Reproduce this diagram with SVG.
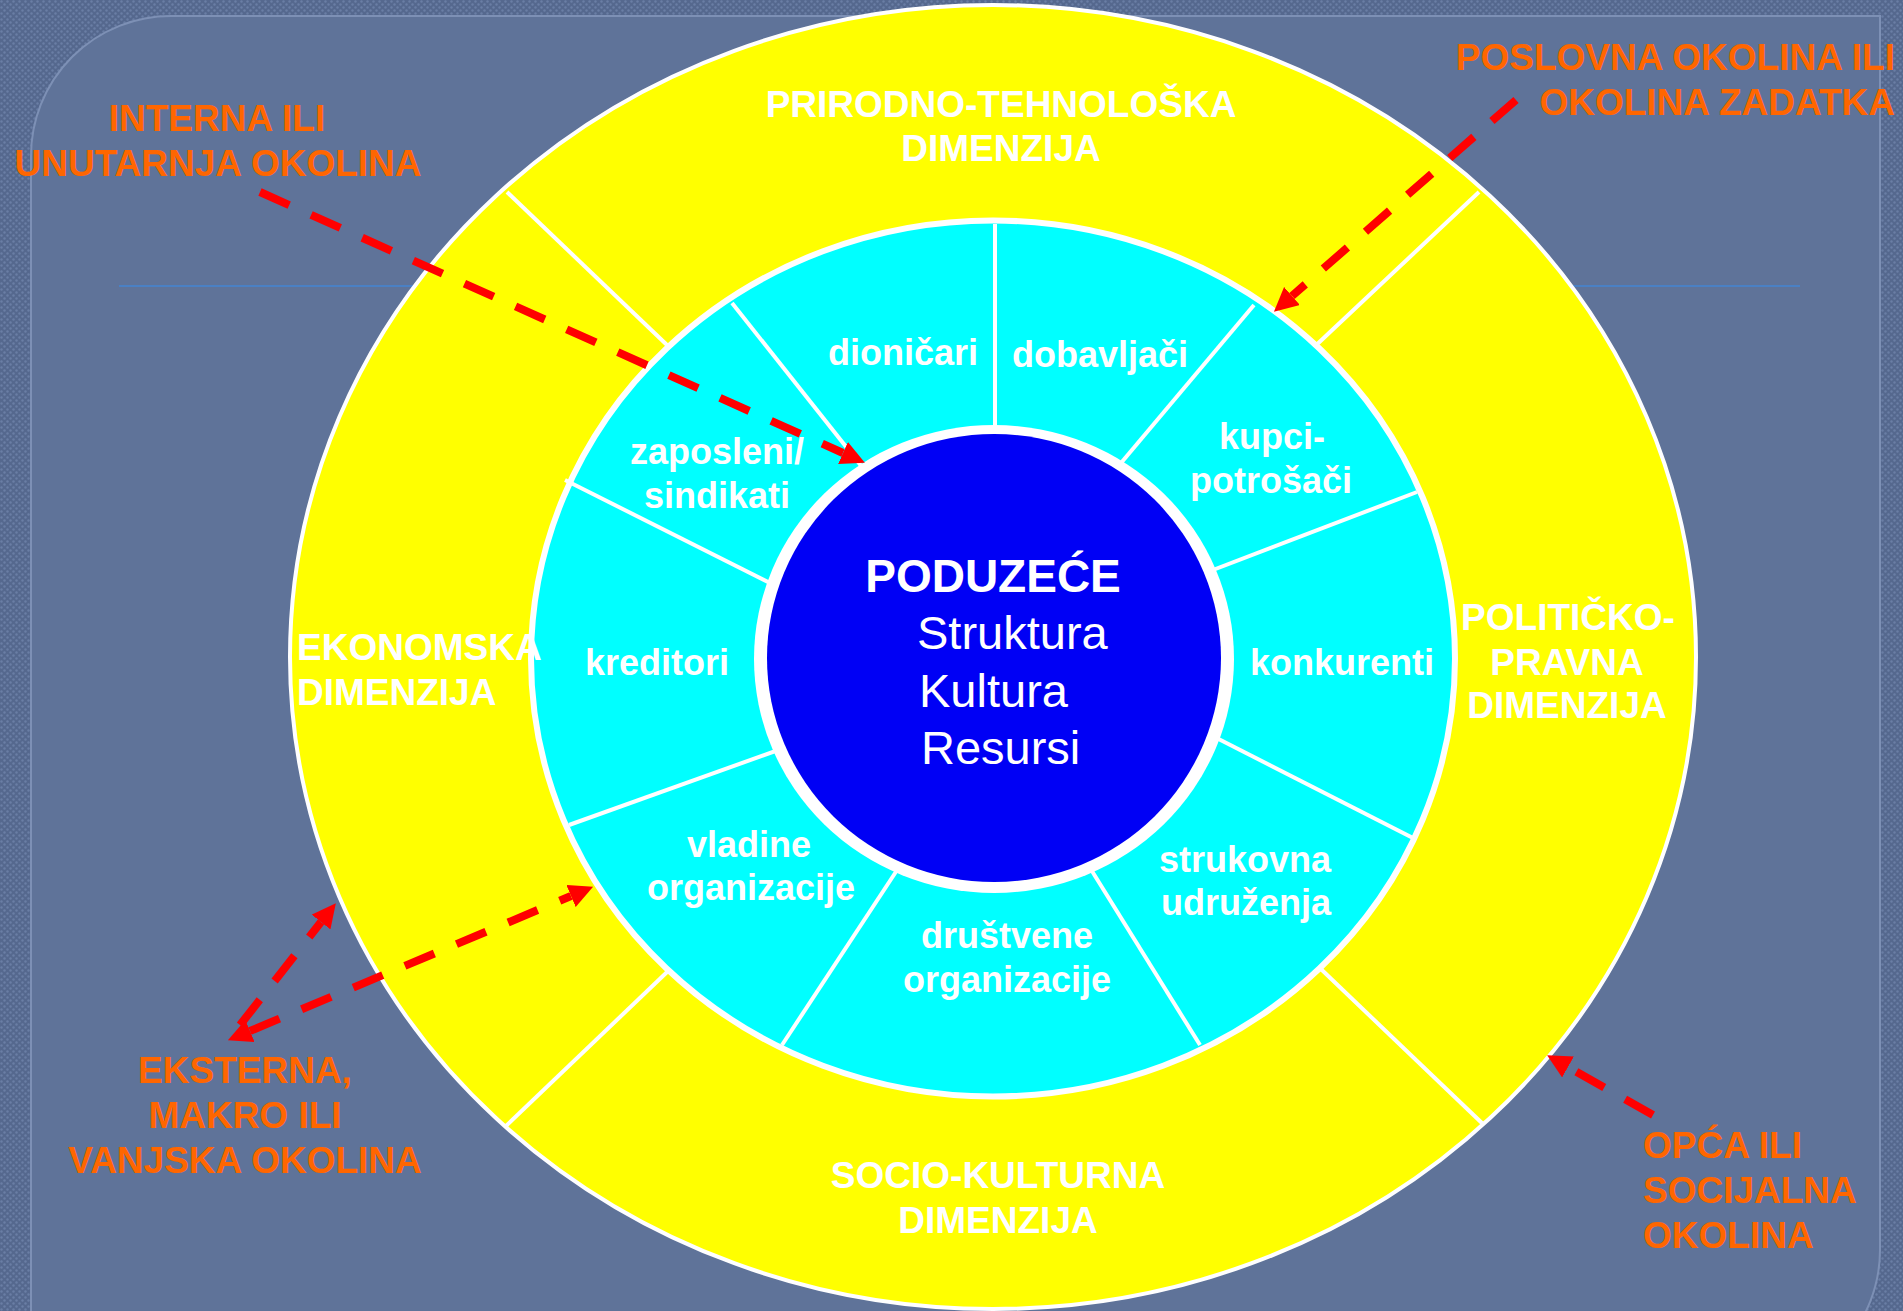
<svg xmlns="http://www.w3.org/2000/svg" width="1903" height="1311" viewBox="0 0 1903 1311">
<defs>
<pattern id="dots" width="6" height="6" patternUnits="userSpaceOnUse">
<rect width="6" height="6" fill="#55688e"/>
<circle cx="1.5" cy="1.5" r="1.2" fill="#6a7ea5"/>
<circle cx="4.5" cy="4.5" r="1.2" fill="#6a7ea5"/>
</pattern>
<marker id="ah" viewBox="0 0 24 24" refX="0" refY="12" markerWidth="24" markerHeight="24" markerUnits="userSpaceOnUse" orient="auto-start-reverse">
<path d="M0,0 L24,12 L0,24 z" fill="#ff0000"/>
</marker>
<style>
.dim{font-family:"Liberation Sans",Arial,sans-serif;font-weight:bold;font-size:37px;fill:#ffffff;text-anchor:middle}
.seg{font-family:"Liberation Sans",Arial,sans-serif;font-weight:bold;font-size:36px;fill:#ffffff;text-anchor:middle}
.lbl{font-family:"Liberation Sans",Arial,sans-serif;font-weight:bold;font-size:37px;fill:#ff6600}
.div{stroke:#ffffff;stroke-width:4;fill:none}
.arr{stroke:#ff0000;stroke-width:8;fill:none;stroke-dasharray:32 24}
</style>
</defs>
<rect x="0" y="0" width="1903" height="1311" fill="url(#dots)"/>
<path d="M31,1400 L31,156 A140,140 0 0 1 171,16 L1880,16 L1880,1250 A140,140 0 0 1 1740,1390 L31,1400 Z" fill="#5f7399" stroke="#7d90b5" stroke-width="2"/>
<line x1="119" y1="286" x2="1800" y2="286" stroke="#4a80c4" stroke-width="2"/>

<g id="outer-ring">
<ellipse cx="993" cy="657" rx="703" ry="652" fill="#ffff00" stroke="#ffffff" stroke-width="4"/>
<line class="div" x1="690" y1="367" x2="507" y2="192"/>
<line class="div" x1="1295" y1="365" x2="1479" y2="192"/>
<line class="div" x1="688" y1="952" x2="506" y2="1126"/>
<line class="div" x1="1301" y1="950" x2="1484" y2="1125"/>
</g>

<g id="middle-ring">
<ellipse cx="993" cy="658.5" rx="462" ry="438" fill="#00ffff" stroke="#ffffff" stroke-width="6"/>
<line class="div" x1="995" y1="224" x2="995" y2="440"/>
<line class="div" x1="732" y1="303" x2="870" y2="477"/>
<line class="div" x1="565" y1="480" x2="790" y2="593"/>
<line class="div" x1="569" y1="825" x2="795" y2="744"/>
<line class="div" x1="782" y1="1045" x2="905" y2="858"/>
<line class="div" x1="1200" y1="1045" x2="1082" y2="855"/>
<line class="div" x1="1413" y1="838" x2="1195" y2="727"/>
<line class="div" x1="1417" y1="492" x2="1192" y2="578"/>
<line class="div" x1="1254" y1="305" x2="1105" y2="482"/>
</g>

<g id="core">
<ellipse cx="994" cy="659" rx="240" ry="234" fill="#ffffff"/>
<ellipse cx="994" cy="658" rx="227" ry="224" fill="#0000f5"/>
<text x="993" y="592" font-family="Liberation Sans, Arial, sans-serif" font-weight="bold" font-size="46" fill="#ffffff" text-anchor="middle">PODUZEĆE</text>
<text x="917" y="649" font-family="Liberation Sans, Arial, sans-serif" font-size="47" fill="#ffffff">Struktura</text>
<text x="919" y="707" font-family="Liberation Sans, Arial, sans-serif" font-size="47" fill="#ffffff">Kultura</text>
<text x="921" y="764" font-family="Liberation Sans, Arial, sans-serif" font-size="47" fill="#ffffff">Resursi</text>
</g>

<g id="dim-prirodno"><text class="dim" x="1001" y="117">PRIRODNO-TEHNOLOŠKA</text><text class="dim" x="1001" y="161">DIMENZIJA</text></g>
<g id="dim-ekonomska"><text class="dim" style="text-anchor:start" x="297" y="660">EKONOMSKA</text><text class="dim" style="text-anchor:start" x="297" y="705">DIMENZIJA</text></g>
<g id="dim-politicko"><text class="dim" x="1568" y="630">POLITIČKO-</text><text class="dim" x="1567" y="675">PRAVNA</text><text class="dim" x="1567" y="718">DIMENZIJA</text></g>
<g id="dim-socio"><text class="dim" x="998" y="1188">SOCIO-KULTURNA</text><text class="dim" x="998" y="1233">DIMENZIJA</text></g>

<g id="seg-dionicari"><text class="seg" x="903" y="365">dioničari</text></g>
<g id="seg-dobavljaci"><text class="seg" x="1100" y="367">dobavljači</text></g>
<g id="seg-kupci"><text class="seg" x="1272" y="449">kupci-</text><text class="seg" x="1271" y="493">potrošači</text></g>
<g id="seg-konkurenti"><text class="seg" x="1342" y="675">konkurenti</text></g>
<g id="seg-strukovna"><text class="seg" x="1245" y="872">strukovna</text><text class="seg" x="1246" y="915">udruženja</text></g>
<g id="seg-drustvene"><text class="seg" x="1007" y="948">društvene</text><text class="seg" x="1007" y="992">organizacije</text></g>
<g id="seg-vladine"><text class="seg" x="749" y="857">vladine</text><text class="seg" x="751" y="900">organizacije</text></g>
<g id="seg-kreditori"><text class="seg" x="657" y="675">kreditori</text></g>
<g id="seg-zaposleni"><text class="seg" x="717" y="464">zaposleni/</text><text class="seg" x="717" y="508">sindikati</text></g>

<g id="lbl-interna"><text class="lbl" x="217" y="131" text-anchor="middle">INTERNA ILI</text><text class="lbl" x="218" y="176" text-anchor="middle">UNUTARNJA OKOLINA</text></g>
<g id="lbl-poslovna"><text class="lbl" x="1895" y="70" text-anchor="end">POSLOVNA OKOLINA ILI</text><text class="lbl" x="1895" y="115" text-anchor="end">OKOLINA ZADATKA</text></g>
<g id="lbl-eksterna"><text class="lbl" x="245" y="1083" text-anchor="middle">EKSTERNA,</text><text class="lbl" x="245" y="1128" text-anchor="middle">MAKRO ILI</text><text class="lbl" x="245" y="1173" text-anchor="middle">VANJSKA OKOLINA</text></g>
<g id="lbl-opca"><text class="lbl" x="1643" y="1158">OPĆA ILI</text><text class="lbl" x="1643" y="1203">SOCIJALNA</text><text class="lbl" x="1643" y="1248">OKOLINA</text></g>

<g id="connectors">
<line class="arr" x1="260" y1="192" x2="843" y2="453" marker-end="url(#ah)"/>
<line class="arr" x1="1516" y1="100" x2="1292" y2="296" marker-end="url(#ah)"/>
<line class="arr" x1="240" y1="1025" x2="321" y2="922" marker-end="url(#ah)"/>
<line class="arr" x1="250" y1="1031" x2="571" y2="896" marker-start="url(#ah)" marker-end="url(#ah)"/>
<line class="arr" x1="1653" y1="1115" x2="1568" y2="1067" marker-end="url(#ah)"/>
</g>
</svg>
